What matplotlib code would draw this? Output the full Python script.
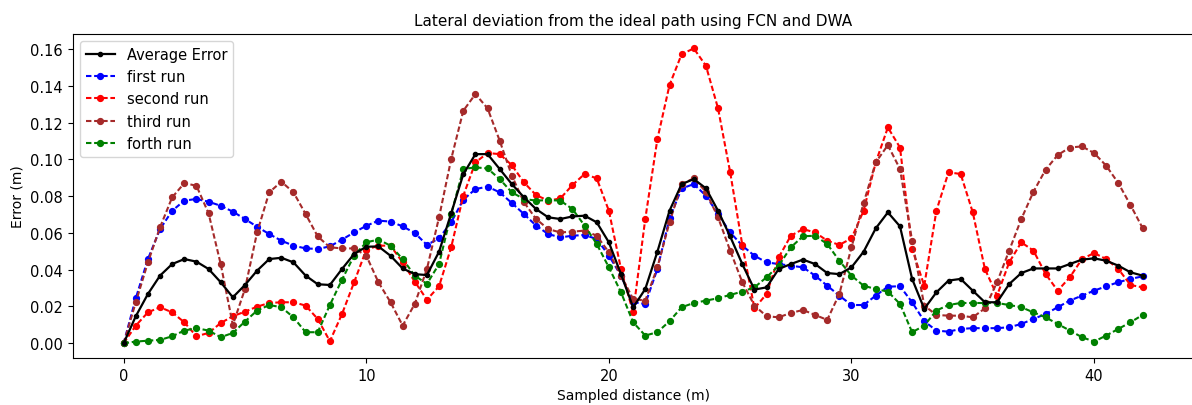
import numpy as np
import matplotlib
matplotlib.use("Agg")
import matplotlib.pyplot as plt

# Sampled distance along the path (m), one sample every 0.5 m
distance = np.arange(0, 42.5, 0.5)

average_error = [
    0.0, 0.0147, 0.0268, 0.0368, 0.0431, 0.0458, 0.0444, 0.0404, 0.0332, 0.0250,
    0.0317, 0.0395, 0.0458, 0.0465, 0.0440, 0.0368, 0.0321, 0.0317, 0.0404, 0.0486,
    0.0525, 0.0527, 0.0476, 0.0407, 0.0376, 0.0371, 0.0498, 0.0707, 0.0920, 0.1029,
    0.1029, 0.0948, 0.0866, 0.0794, 0.0730, 0.0685, 0.0676, 0.0690, 0.0694, 0.0658,
    0.0549, 0.0376, 0.0195, 0.0295, 0.0498, 0.0721, 0.0866, 0.0893, 0.0843, 0.0721,
    0.0581, 0.0431, 0.0292, 0.0304, 0.0404, 0.0431, 0.0455, 0.0431, 0.0382, 0.0376,
    0.0413, 0.0498, 0.0625, 0.0712, 0.0636, 0.0350, 0.0187, 0.0277, 0.0341, 0.0350,
    0.0286, 0.0223, 0.0223, 0.0322, 0.0382, 0.0407, 0.0407, 0.0407, 0.0431, 0.0455,
    0.0462, 0.0449, 0.0422, 0.0386, 0.0368,
]

first_run = [
    0.0, 0.0245, 0.0458, 0.0621, 0.0721, 0.0776, 0.0785, 0.0770, 0.0748, 0.0716,
    0.0676, 0.0634, 0.0594, 0.0558, 0.0531, 0.0516, 0.0513, 0.0527, 0.0564, 0.0603,
    0.0639, 0.0667, 0.0662, 0.0636, 0.0600, 0.0535, 0.0571, 0.0658, 0.0781, 0.0839,
    0.0852, 0.0821, 0.0763, 0.0703, 0.0640, 0.0594, 0.0576, 0.0585, 0.0589, 0.0567,
    0.0477, 0.0368, 0.0223, 0.0214, 0.0404, 0.0680, 0.0842, 0.0866, 0.0803, 0.0703,
    0.0603, 0.0531, 0.0476, 0.0440, 0.0431, 0.0422, 0.0413, 0.0368, 0.0313, 0.0259,
    0.0208, 0.0208, 0.0259, 0.0308, 0.0310, 0.0223, 0.0120, 0.0069, 0.0063, 0.0078,
    0.0082, 0.0082, 0.0082, 0.0087, 0.0105, 0.0132, 0.0159, 0.0196, 0.0232, 0.0259,
    0.0286, 0.0310, 0.0332, 0.0350, 0.0364,
]

second_run = [
    0.0, 0.0096, 0.0168, 0.0196, 0.0168, 0.0114, 0.0038, 0.0056, 0.0110, 0.0147,
    0.0172, 0.0199, 0.0219, 0.0223, 0.0223, 0.0205, 0.0132, 0.0011, 0.0159, 0.0332,
    0.0509, 0.0531, 0.0531, 0.0440, 0.0335, 0.0237, 0.0310, 0.0522, 0.0803, 0.0984,
    0.1035, 0.1029, 0.0969, 0.0875, 0.0806, 0.0776, 0.0788, 0.0861, 0.0921, 0.0897,
    0.0721, 0.0404, 0.0168, 0.0676, 0.1111, 0.1405, 0.1573, 0.1604, 0.1510, 0.1278,
    0.0930, 0.0535, 0.0190, 0.0268, 0.0467, 0.0585, 0.0621, 0.0603, 0.0558, 0.0535,
    0.0571, 0.0721, 0.0984, 0.1174, 0.1065, 0.0513, 0.0313, 0.0721, 0.0930, 0.0921,
    0.0712, 0.0404, 0.0259, 0.0440, 0.0549, 0.0504, 0.0377, 0.0286, 0.0359, 0.0458,
    0.0491, 0.0458, 0.0404, 0.0317, 0.0304,
]

third_run = [
    0.0, 0.0223, 0.0440, 0.0631, 0.0794, 0.0871, 0.0857, 0.0707, 0.0431, 0.0100,
    0.0295, 0.0603, 0.0821, 0.0879, 0.0821, 0.0703, 0.0581, 0.0522, 0.0516, 0.0516,
    0.0477, 0.0332, 0.0223, 0.0096, 0.0214, 0.0404, 0.0685, 0.1002, 0.1265, 0.1356,
    0.1278, 0.1102, 0.0912, 0.0767, 0.0676, 0.0621, 0.0603, 0.0607, 0.0613, 0.0585,
    0.0495, 0.0368, 0.0241, 0.0232, 0.0413, 0.0658, 0.0866, 0.0897, 0.0824, 0.0685,
    0.0504, 0.0332, 0.0205, 0.0147, 0.0141, 0.0165, 0.0181, 0.0154, 0.0127, 0.0268,
    0.0522, 0.0763, 0.0984, 0.1078, 0.0948, 0.0558, 0.0205, 0.0154, 0.0150, 0.0150,
    0.0141, 0.0190, 0.0332, 0.0504, 0.0676, 0.0824, 0.0944, 0.1024, 0.1065, 0.1071,
    0.1035, 0.0966, 0.0871, 0.0752, 0.0627,
]

forth_run = [
    0.0, 0.0009, 0.0014, 0.0018, 0.0038, 0.0069, 0.0082, 0.0069, 0.0033, 0.0056,
    0.0118, 0.0178, 0.0208, 0.0196, 0.0141, 0.0060, 0.0060, 0.0208, 0.0346, 0.0477,
    0.0549, 0.0564, 0.0531, 0.0458, 0.0368, 0.0323, 0.0431, 0.0703, 0.0948, 0.0957,
    0.0951, 0.0893, 0.0821, 0.0785, 0.0776, 0.0779, 0.0776, 0.0730, 0.0640, 0.0540,
    0.0413, 0.0277, 0.0114, 0.0042, 0.0060, 0.0120, 0.0196, 0.0219, 0.0232, 0.0245,
    0.0263, 0.0281, 0.0304, 0.0359, 0.0422, 0.0522, 0.0582, 0.0585, 0.0540, 0.0449,
    0.0368, 0.0313, 0.0295, 0.0281, 0.0214, 0.0060, 0.0096, 0.0178, 0.0208, 0.0219,
    0.0219, 0.0219, 0.0219, 0.0208, 0.0196, 0.0168, 0.0141, 0.0105, 0.0069, 0.0033,
    0.0009, 0.0042, 0.0078, 0.0114, 0.0154,
]

fig = plt.figure(figsize=(11.92, 4.06), dpi=100)
ax = fig.add_axes([0.061, 0.1158, 0.9403, 0.7987])

dashed = (0, (2.6, 1.3))
ax.plot(distance, average_error, color="black", linestyle="-", linewidth=1.6,
        marker="o", markersize=3, label="Average Error", zorder=5)
ax.plot(distance, first_run, color="blue", linestyle=dashed, linewidth=1.5,
        marker="o", markersize=4.2, label="first run")
ax.plot(distance, second_run, color="red", linestyle=dashed, linewidth=1.5,
        marker="o", markersize=4.2, label="second run")
ax.plot(distance, third_run, color="brown", linestyle=dashed, linewidth=1.5,
        marker="o", markersize=4.2, label="third run")
ax.plot(distance, forth_run, color="green", linestyle=dashed, linewidth=1.5,
        marker="o", markersize=4.2, label="forth run")

ax.set_title("Lateral deviation from the ideal path using FCN and DWA", fontsize=11)
ax.set_xlabel("Sampled distance (m)", fontsize=10)
ax.set_ylabel("Error (m)", fontsize=10)
ax.tick_params(labelsize=10.5)
ax.legend(loc="upper left", fontsize=10.5)

fig.savefig("out.png", dpi=100)
